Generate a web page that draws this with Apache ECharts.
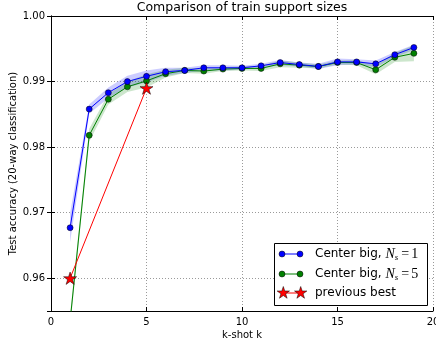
<!DOCTYPE html>
<html>
<head>
<meta charset="utf-8">
<script src="https://cdn.jsdelivr.net/npm/echarts@6/dist/echarts.min.js"></script>
<style>html,body{margin:0;padding:0;background:#fff;}#c{width:436px;height:347px;}</style>
</head>
<body>
<div id="c"></div>
<script>
const kShots = [1,2,3,4,5,6,7,8,9,10,11,12,13,14,15,16,17,18,19];
const blueMean = [0.9677,0.9858,0.9883,0.9900,0.9908,0.9915,0.9917,0.9921,0.9921,0.9921,0.9924,0.9929,0.9926,0.9923,0.9930,0.9930,0.9927,0.9941,0.9952];
const blueStd  = [0.0022,0.0007,0.0008,0.0009,0.0009,0.0006,0.0004,0.0004,0.0004,0.0003,0.0003,0.0004,0.0003,0.0004,0.0005,0.0004,0.0005,0.0004,0.0004];
const greenMean = [0.9535,0.9818,0.9873,0.9892,0.9901,0.9912,0.9917,0.9916,0.9919,0.9920,0.9920,0.9927,0.9925,0.9923,0.9929,0.9929,0.9918,0.9937,0.9943];
const greenStd  = [0.0010,0.0010,0.0008,0.0008,0.0010,0.0006,0.0004,0.0004,0.0003,0.0003,0.0004,0.0005,0.0004,0.0003,0.0003,0.0004,0.0007,0.0007,0.0012];
const prevK = [1,5];
const prevAcc = [0.960,0.989];
const seriesNames = ['Center big, N_s=1','Center big, N_s=5','previous best'];
const titleText = 'Comparison of train support sizes';
const xName = 'k-shot k';
const yName = 'Test accuracy (20-way classification)';

function starPts(cx, cy, R, r) {
  const p = [];
  for (let i = 0; i < 10; i++) {
    const a = -Math.PI / 2 + i * Math.PI / 5;
    const rad = i % 2 ? r : R;
    p.push([cx + rad * Math.cos(a), cy + rad * Math.sin(a)]);
  }
  return p;
}
function starPath(R, r) {
  return 'path://' + starPts(0, 0, R, r).map((q, i) => (i ? 'L' : 'M') + q[0].toFixed(3) + ',' + q[1].toFixed(3)).join('') + 'Z';
}

const pairs = (xs, ys) => xs.map((x, i) => [x, ys[i]]);

function band(name, m, s, color) {
  return {
    type: 'custom', name: name, clip: true, silent: true, z: 1,
    data: kShots.map((k, i) => [k, m[i] - s[i], m[i] + s[i]]),
    encode: { x: 0, y: [1, 2] },
    renderItem: function (params, api) {
      if (params.dataIndex !== 0) return null;
      const up = [], lo = [];
      for (let i = 0; i < kShots.length; i++) {
        up.push(api.coord([kShots[i], m[i] + s[i]]));
        lo.push(api.coord([kShots[i], m[i] - s[i]]));
      }
      return { type: 'polygon', shape: { points: up.concat(lo.reverse()) }, style: { fill: color, stroke: null } };
    }
  };
}

const gridLine = { show: true, lineStyle: { color: '#9a9a9a', width: 1, type: [1, 2] } };
const axisLineS = { show: true, lineStyle: { color: '#000', width: 1 } };
const tickS = { show: true, inside: true, length: 4, lineStyle: { color: '#000', width: 1 } };
const labelS = { color: '#000', fontSize: 10, fontFamily: 'DejaVu Sans' };

const chart = echarts.init(document.getElementById('c'), null, { renderer: 'canvas' });

const legendX = 274, legendY = 243;
const rich = {
  m: { fontFamily: 'Liberation Serif', fontStyle: 'italic', fontSize: 14, lineHeight: 16 },
  s: { fontFamily: 'Liberation Serif', fontStyle: 'italic', fontSize: 9, lineHeight: 8, verticalAlign: 'bottom' },
  e: { fontFamily: 'Liberation Serif', fontSize: 14, lineHeight: 16, padding: [0, 2, 0, 3] },
  o: { fontFamily: 'Liberation Serif', fontSize: 14, lineHeight: 16 }
};
function legendRow(y, color, isStar, text) {
  const els = [
    { type: 'line', shape: { x1: 282, y1: y, x2: 300, y2: y }, style: { stroke: color, lineWidth: 1 }, z: 101 }
  ];
  if (isStar) {
    [283.3, 300.7].forEach(cx => els.push({ type: 'polygon', shape: { points: starPts(cx, y, 6.5, 2.5) }, style: { fill: color, stroke: '#000', lineWidth: 0.5 }, z: 102 }));
  } else {
    [282, 300].forEach(cx => els.push({ type: 'circle', shape: { cx: cx, cy: y, r: 3 }, style: { fill: color, stroke: '#000', lineWidth: 0.5 }, z: 102 }));
  }
  els.push({ type: 'text', x: 315, y: y, style: { text: text, fill: '#000', fontSize: 12, fontFamily: 'DejaVu Sans', verticalAlign: 'middle', rich: rich }, z: 102 });
  return els;
}

const option = {
  backgroundColor: '#fff',
  animation: false,
  title: { text: titleText, left: 242, top: 1, padding: 0, textAlign: 'center', textStyle: { fontSize: 12.5, fontWeight: 'normal', color: '#000', fontFamily: 'DejaVu Sans' } },
  grid: { left: 51, right: 3, top: 16, bottom: 36, containLabel: false, outerBoundsMode: 'none' },
  xAxis: [
    { type: 'value', min: 0, max: 20, interval: 5, position: 'bottom', axisLine: axisLineS, axisTick: tickS, axisLabel: Object.assign({ margin: 6 }, labelS), splitLine: gridLine,
      name: xName, nameLocation: 'middle', nameGap: 19, nameMoveOverlap: false, nameTextStyle: { fontSize: 10, color: '#000', fontFamily: 'DejaVu Sans' } },
    { type: 'value', min: 0, max: 20, interval: 5, position: 'top', axisLine: axisLineS, axisTick: tickS, axisLabel: { show: false }, splitLine: { show: false } }
  ],
  yAxis: [
    { type: 'value', min: 0.955, max: 1.0, splitNumber: 5, position: 'left', axisLine: axisLineS, axisTick: tickS,
      axisLabel: Object.assign({ margin: 6, showMinLabel: false, formatter: v => v.toFixed(2) }, labelS), splitLine: gridLine,
      name: yName, nameLocation: 'middle', nameGap: 33, nameMoveOverlap: false, nameTextStyle: { fontSize: 10, color: '#000', fontFamily: 'DejaVu Sans' } },
    { type: 'value', min: 0.955, max: 1.0, splitNumber: 5, position: 'right', axisLine: axisLineS, axisTick: tickS, axisLabel: { show: false }, splitLine: { show: false } }
  ],
  series: [
    band('blue band', blueMean, blueStd, 'rgba(0,0,255,0.2)'),
    band('green band', greenMean, greenStd, 'rgba(0,128,0,0.2)'),
    { type: 'line', name: seriesNames[1], data: pairs(kShots, greenMean), clip: true, symbol: 'circle', symbolSize: 6, showAllSymbol: true,
      lineStyle: { color: '#008000', width: 1 }, itemStyle: { color: '#008000', borderColor: '#000', borderWidth: 0.5 }, z: 3 },
    { type: 'line', name: seriesNames[0], data: pairs(kShots, blueMean), clip: true, symbol: 'circle', symbolSize: 6, showAllSymbol: true,
      lineStyle: { color: '#0000ff', width: 1 }, itemStyle: { color: '#0000ff', borderColor: '#000', borderWidth: 0.5 }, z: 4 },
    { type: 'line', name: seriesNames[2], data: pairs(prevK, prevAcc), clip: true, symbol: starPath(7, 2.67), symbolSize: 13, symbolKeepAspect: true,
      lineStyle: { color: '#ff0000', width: 1 }, itemStyle: { color: '#ff0000', borderColor: '#000', borderWidth: 0.5 }, z: 5 }
  ],
  graphic: [
    { type: 'rect', shape: { x: legendX + 0.5, y: legendY + 0.5, width: 153, height: 62 }, style: { fill: '#fff', stroke: '#000', lineWidth: 1 }, z: 100 },
    ...legendRow(254, '#0000ff', false, 'Center big, {m|N}{s|s}{e|=}{o|1}'),
    ...legendRow(274, '#008000', false, 'Center big, {m|N}{s|s}{e|=}{o|5}'),
    ...legendRow(293, '#ff0000', true, seriesNames[2])
  ]
};
chart.setOption(option);
</script>
</body>
</html>
